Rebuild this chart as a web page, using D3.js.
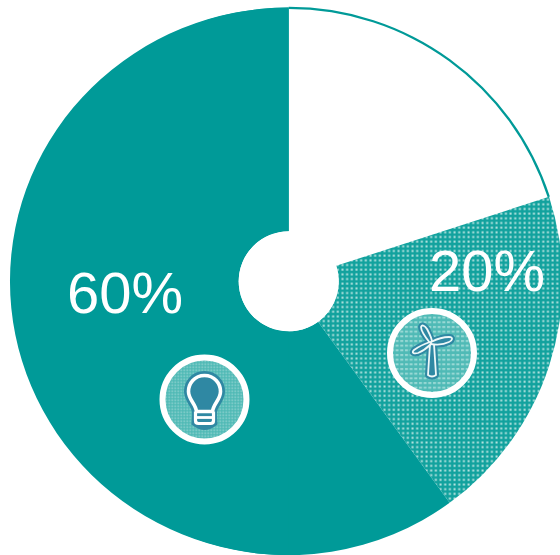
<!DOCTYPE html>
<html><head><meta charset="utf-8">
<script src="https://cdn.jsdelivr.net/npm/d3@7"></script>
<style>html,body{margin:0;padding:0;background:#fff;overflow:hidden}svg{display:block}text{font-family:"Liberation Sans",Arial,sans-serif;fill:#fff}</style>
</head><body><div id="c"></div>
<script>
const categories=["Other","Wind","Electricity"];
const values=[20,20,60];
const labels=["","20%","60%"];
const W=560,H=555,cx=288.7,cy=281.3,R=273.8,r=50;
const TEAL="#009a98",BLUE="#2f88a3";
const svg=d3.select("#c").append("svg").attr("width",W).attr("height",H);
const defs=svg.append("defs");
const dot=defs.append("pattern").attr("id","dots").attr("patternUnits","userSpaceOnUse").attr("width",4.67).attr("height",4.67);
dot.append("rect").attr("width",4.67).attr("height",4.67).attr("fill","#12a29e");
dot.append("rect").attr("x",1.4).attr("y",1.4).attr("width",2).attr("height",2).attr("fill","#b8e4e1");
const fine=defs.append("pattern").attr("id","fine").attr("patternUnits","userSpaceOnUse").attr("width",3).attr("height",3);
fine.append("rect").attr("width",3).attr("height",3).attr("fill","#4cb8b4");
fine.append("rect").attr("width",1.5).attr("height",1.5).attr("fill","#9fd9d6");
const wave=defs.append("pattern").attr("id","wave").attr("patternUnits","userSpaceOnUse").attr("width",4.67).attr("height",4.67);
wave.append("rect").attr("width",4.67).attr("height",4.67).attr("fill","#4fbab6");
wave.append("rect").attr("x",1).attr("y",1).attr("width",3).attr("height",2).attr("fill","#9ad9d5");

const pie=d3.pie().sort(null).value(d=>d);
const arcs=pie(values);
const arc=d3.arc().innerRadius(r).outerRadius(R);
const g=svg.append("g").attr("transform",`translate(${cx},${cy})`);
g.append("path").attr("d",arc(arcs[0])).attr("fill","#fff");
g.append("path").attr("d",d3.arc().innerRadius(R-1.5).outerRadius(R+0.8)(arcs[0])).attr("fill",TEAL);
g.append("path").attr("d",arc(arcs[1])).attr("fill","url(#dots)");
g.append("path").attr("d",arc(arcs[2])).attr("fill",TEAL);
g.append("path").attr("transform","scale(1.018,1)")
 .attr("d",d3.arc().innerRadius(r).outerRadius(R)({startAngle:Math.PI,endAngle:2*Math.PI})).attr("fill",TEAL);
g.append("circle").attr("r",r).attr("fill","#fff");

svg.append("text").attr("x",67).attr("y",313).attr("font-size",58).text(labels[2]);
svg.append("text").attr("x",429).attr("y",291).attr("font-size",58).text(labels[1]);

// bulb badge
const b=svg.append("g").attr("transform","translate(204.5,399.5)");
b.append("circle").attr("r",42).attr("fill","url(#fine)").attr("stroke","#fff").attr("stroke-width",6);
const head="M0,-24 C-10,-24 -16,-16 -16,-8 C-16,0 -9,4 -8,12 L8,12 C9,4 16,0 16,-8 C16,-16 10,-24 0,-24 Z";
b.append("path").attr("d",head).attr("fill",BLUE).attr("stroke",BLUE).attr("stroke-width",9);
b.append("path").attr("d","M-10,11 L-11,24 Q0,33 11,24 L10,11 Z").attr("fill",BLUE).attr("stroke",BLUE).attr("stroke-width",4);
b.append("path").attr("d",head).attr("fill",BLUE).attr("stroke","#fff").attr("stroke-width",3.6);
b.append("path").attr("d","M-9,12 L-9,21 Q-9,24 -6,24 L6,24 Q9,24 9,21 L9,12").attr("fill","none").attr("stroke","#fff").attr("stroke-width",3.2);
b.append("path").attr("d","M-8,18 L8,18").attr("stroke","#fff").attr("stroke-width",2.8);

// wind badge
const t=svg.append("g").attr("transform","translate(432,353)");
t.append("circle").attr("r",42).attr("fill","url(#wave)").attr("stroke","#fff").attr("stroke-width",6);
const blades=[
 "M-2,-10 C-6,-15 -11,-22 -11,-26 C-10,-29 -7,-27 -5,-24 C-3,-20 0,-15 0,-11 Z",
 "M-1,-11 C5,-14 12,-16 17,-16 C22,-16 20,-12 17,-11 C11,-8 5,-8 -1,-9 Z",
 "M-2,-11 C-8,-9 -14,-6 -18,-3 C-21,0 -18,1 -14,0 C-9,-2 -4,-6 -1,-9 Z"];
const tower="M-2,-9 L-4,22 Q0,25 4,22 L2,-9 Z";
const parts=[tower,...blades];
t.selectAll(".o").data(parts).join("path").attr("class","o").attr("d",d=>d).attr("fill",BLUE).attr("stroke",BLUE).attr("stroke-width",6).attr("stroke-linejoin","round");
t.selectAll(".i").data(parts).join("path").attr("class","i").attr("d",d=>d).attr("fill",BLUE).attr("stroke","#eef8f8").attr("stroke-width",1.8).attr("stroke-linejoin","round");
</script></body></html>
